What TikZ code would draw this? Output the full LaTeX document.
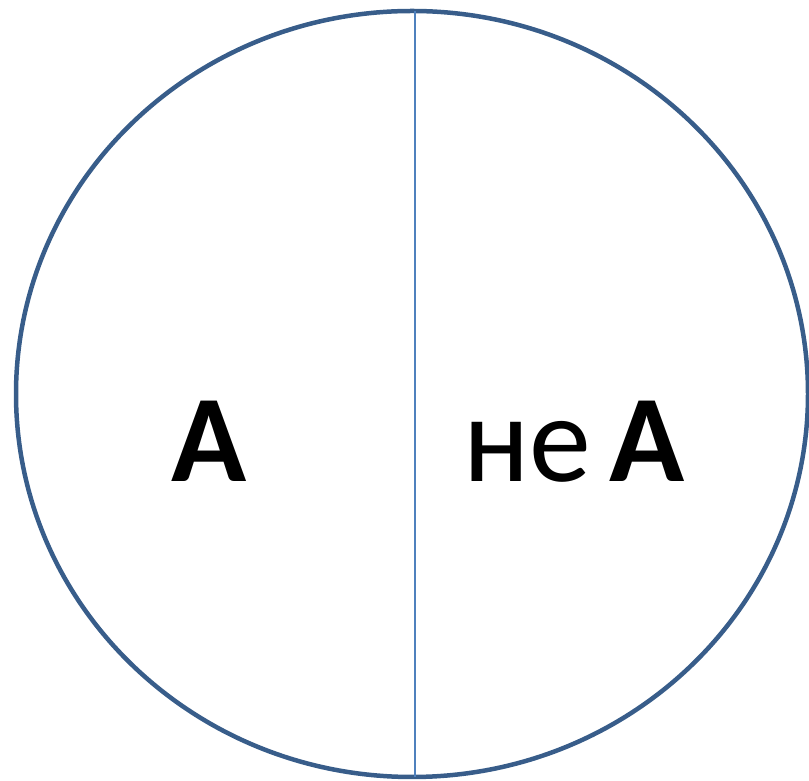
\documentclass[tikz,border=0pt]{standalone}
\usepackage{fontspec}
\setmainfont{Carlito}
\usepackage{xcolor}
\usepackage{tikz}
\usetikzlibrary{positioning, calc}
\definecolor{myrim}{RGB}{56,93,138}
\definecolor{mysplit}{RGB}{79,129,189}
\tikzset{
  rim/.style={draw=myrim, line width=4.5pt},
  splitline/.style={draw=mysplit, line width=1.6pt},
  biglabel/.style={anchor=base, inner sep=0pt, font=\fontsize{124}{126}\selectfont, text=black}
}
\begin{document}
\begin{tikzpicture}[x=1pt, y=1pt]
  \useasboundingbox (0,0) rectangle (809,781);
  % Outer ellipse
  \draw[rim] (412,387) ellipse [x radius=396, y radius=383];
  % Dividing line
  \coordinate (Top) at (415,770);
  \coordinate (Bot) at (415,4);
  \draw[splitline] (Top) -- (Bot);
  % Labels
  \node[biglabel] (setA) at (209,299) {\textbf{A}};
  \node[biglabel] (notA) at (574,299) {не\hspace{-0.08em} \textbf{A}};
\end{tikzpicture}
\end{document}
